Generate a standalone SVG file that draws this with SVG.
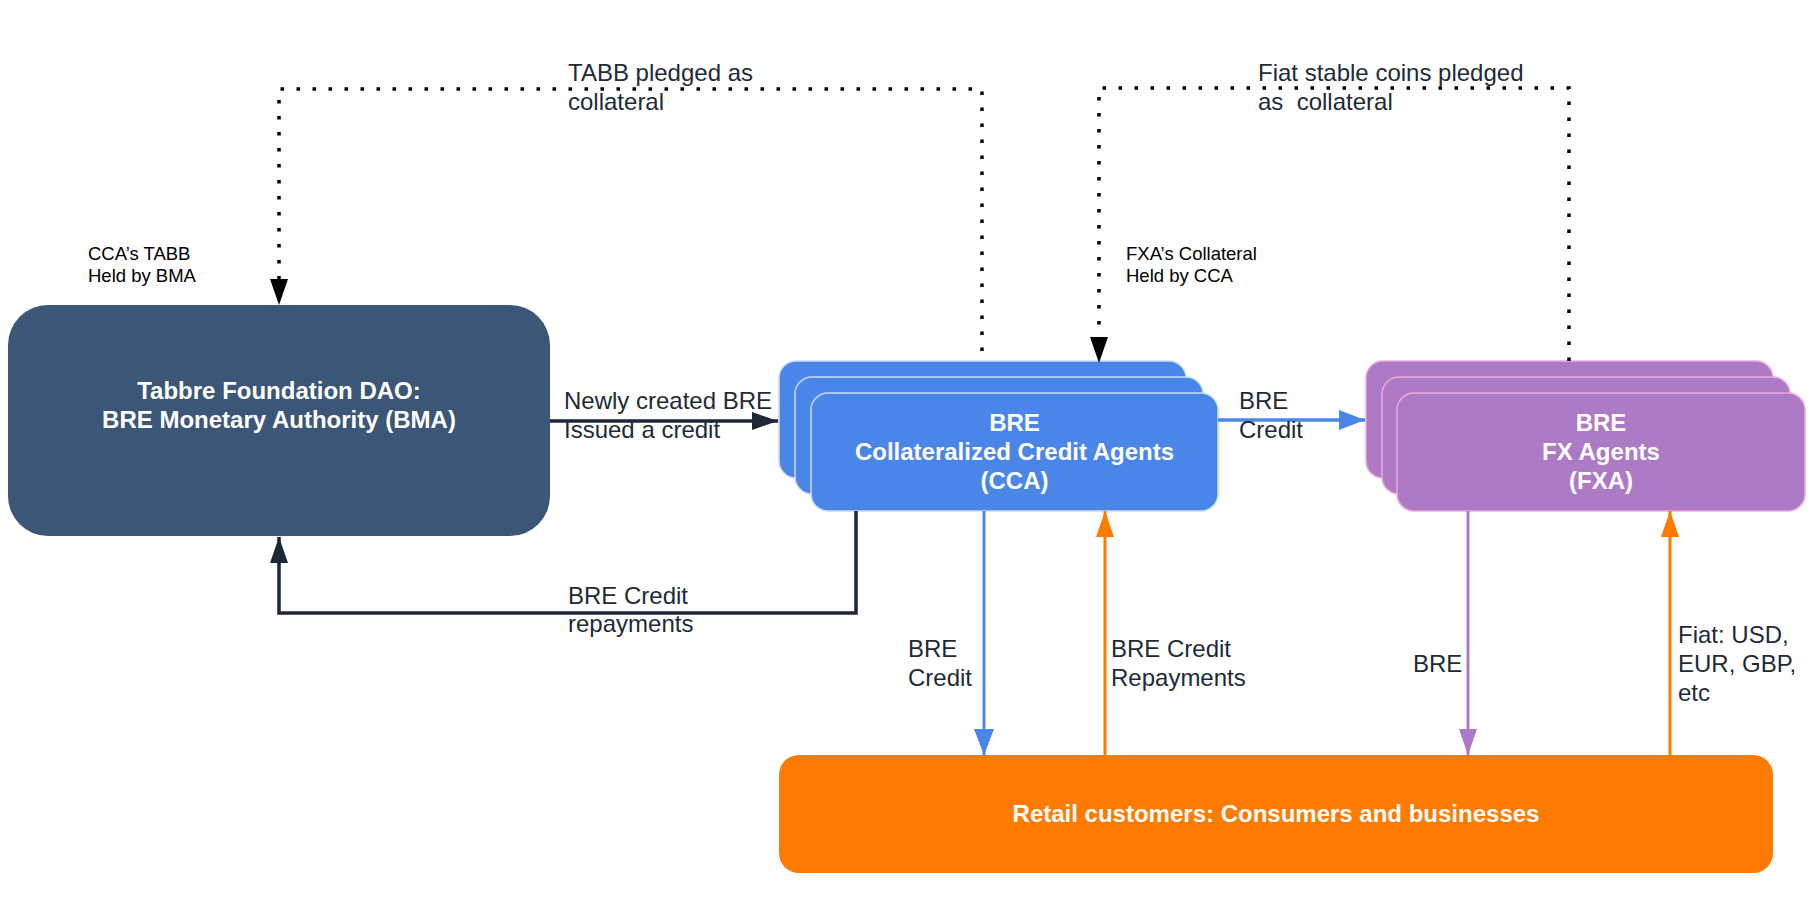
<svg xmlns="http://www.w3.org/2000/svg" width="1811" height="911" viewBox="0 0 1811 911">
<style>
  .node-title { font-family: "Liberation Sans", Arial, sans-serif; font-size: 24px; font-weight: bold; fill: #ffffff; text-anchor: middle; }
  .lbl { font-family: "Liberation Sans", Arial, sans-serif; font-size: 24px; fill: #1f2a37; }
  .small { font-family: "Liberation Sans", Arial, sans-serif; font-size: 18.5px; fill: #000000; }
  .dark { fill: none; stroke: #1c2836; stroke-width: 3.5; }
  .blue { fill: none; stroke: #4a86e8; }
  .orange { fill: none; stroke: #ff7b00; stroke-width: 3; }
  .purple { fill: none; stroke: #ad7bc5; stroke-width: 3; }
  .dotted { fill: none; stroke: #000000; stroke-width: 3.5; stroke-dasharray: 3.5 12.5; }
  .cca { fill: #4a86e8; stroke: #c9dcfa; stroke-width: 1.5; }
  .fxa { fill: #ad7bc5; stroke: #f2a7dc; stroke-width: 1.5; }
</style>
<defs>
  <marker id="ah-dark" markerUnits="userSpaceOnUse" markerWidth="26" markerHeight="18" refX="26" refY="9" orient="auto"><path d="M0,0 L26,9 L0,18 Z" fill="#1c2836"/></marker>
  <marker id="ah-blue" markerUnits="userSpaceOnUse" markerWidth="26" markerHeight="20" refX="26" refY="10" orient="auto"><path d="M0,0 L26,10 L0,20 Z" fill="#4a86e8"/></marker>
  <marker id="ah-orange" markerUnits="userSpaceOnUse" markerWidth="26" markerHeight="18" refX="26" refY="9" orient="auto"><path d="M0,0 L26,9 L0,18 Z" fill="#ff7b00"/></marker>
  <marker id="ah-purple" markerUnits="userSpaceOnUse" markerWidth="26" markerHeight="18" refX="26" refY="9" orient="auto"><path d="M0,0 L26,9 L0,18 Z" fill="#ad7bc5"/></marker>
  <marker id="ah-black" markerUnits="userSpaceOnUse" markerWidth="26" markerHeight="18" refX="26" refY="9" orient="auto"><path d="M0,0 L26,9 L0,18 Z" fill="#000000"/></marker>
</defs>
<rect width="1811" height="911" fill="#ffffff"/>

<g id="bma">
  <rect x="8" y="305" width="542" height="231" rx="40" ry="40" fill="#3c5677"/>
  <text class="node-title" x="279" y="399">Tabbre Foundation DAO:</text>
  <text class="node-title" x="279" y="428">BRE Monetary Authority (BMA)</text>
</g>

<g id="cca">
  <rect class="cca" x="779" y="361" width="407" height="117" rx="17"/>
  <rect class="cca" x="795" y="377" width="408" height="117" rx="17"/>
  <rect class="cca" x="811" y="393" width="407" height="118" rx="17"/>
  <text class="node-title" x="1014.5" y="431">BRE</text>
  <text class="node-title" x="1014.5" y="460">Collateralized Credit Agents</text>
  <text class="node-title" x="1014.5" y="489">(CCA)</text>
</g>

<g id="fxa">
  <rect class="fxa" x="1366" y="361" width="407" height="117" rx="17"/>
  <rect class="fxa" x="1382" y="377" width="408" height="117" rx="17"/>
  <rect class="fxa" x="1397" y="393" width="408" height="118" rx="17"/>
  <text class="node-title" x="1601" y="431">BRE</text>
  <text class="node-title" x="1601" y="460">FX Agents</text>
  <text class="node-title" x="1601" y="489">(FXA)</text>
</g>

<g id="retail">
  <rect x="779" y="755" width="994" height="118" rx="20" fill="#ff7b00"/>
  <text class="node-title" x="1276" y="822">Retail customers: Consumers and businesses</text>
</g>

<g id="connectors">
  <path class="dark" d="M550,421 L778,421" marker-end="url(#ah-dark)"/>
  <path class="dark" d="M856,511 L856,613 L279,613 L279,537" marker-end="url(#ah-dark)"/>
  <path class="blue" stroke-width="3.5" d="M1218,420 L1365,420" marker-end="url(#ah-blue)"/>
  <path class="blue" stroke-width="3" d="M984,511 L984,755" marker-end="url(#ah-blue)"/>
  <path class="orange" d="M1105,755 L1105,511" marker-end="url(#ah-orange)"/>
  <path class="purple" d="M1468,511 L1468,755" marker-end="url(#ah-purple)"/>
  <path class="orange" d="M1670,755 L1670,511" marker-end="url(#ah-orange)"/>
  <path class="dotted" d="M982,351 L982,89 L279,89 L279,305" marker-end="url(#ah-black)"/>
  <path class="dotted" d="M1569,361 L1569,88 L1099,88 L1099,363" marker-end="url(#ah-black)"/>
</g>

<g id="labels">
  <text class="lbl" x="564" y="409">Newly created BRE</text>
  <text class="lbl" x="564" y="438">Issued a credit</text>
  <text class="lbl" x="568" y="604">BRE Credit</text>
  <text class="lbl" x="568" y="632">repayments</text>
  <text class="lbl" x="1239" y="409">BRE</text>
  <text class="lbl" x="1239" y="438">Credit</text>
  <text class="lbl" x="908" y="657">BRE</text>
  <text class="lbl" x="908" y="686">Credit</text>
  <text class="lbl" x="1111" y="657">BRE Credit</text>
  <text class="lbl" x="1111" y="686">Repayments</text>
  <text class="lbl" x="1413" y="672">BRE</text>
  <text class="lbl" x="1678" y="643">Fiat: USD,</text>
  <text class="lbl" x="1678" y="672">EUR, GBP,</text>
  <text class="lbl" x="1678" y="701">etc</text>
  <text class="lbl" x="568" y="81">TABB pledged as</text>
  <text class="lbl" x="568" y="110">collateral</text>
  <text class="lbl" x="1258" y="81">Fiat stable coins pledged</text>
  <text class="lbl" x="1258" y="110">as&#160; collateral</text>
  <text class="small" x="88" y="260">CCA’s TABB</text>
  <text class="small" x="88" y="282">Held by BMA</text>
  <text class="small" x="1126" y="260">FXA’s Collateral</text>
  <text class="small" x="1126" y="282">Held by CCA</text>
</g>
</svg>
